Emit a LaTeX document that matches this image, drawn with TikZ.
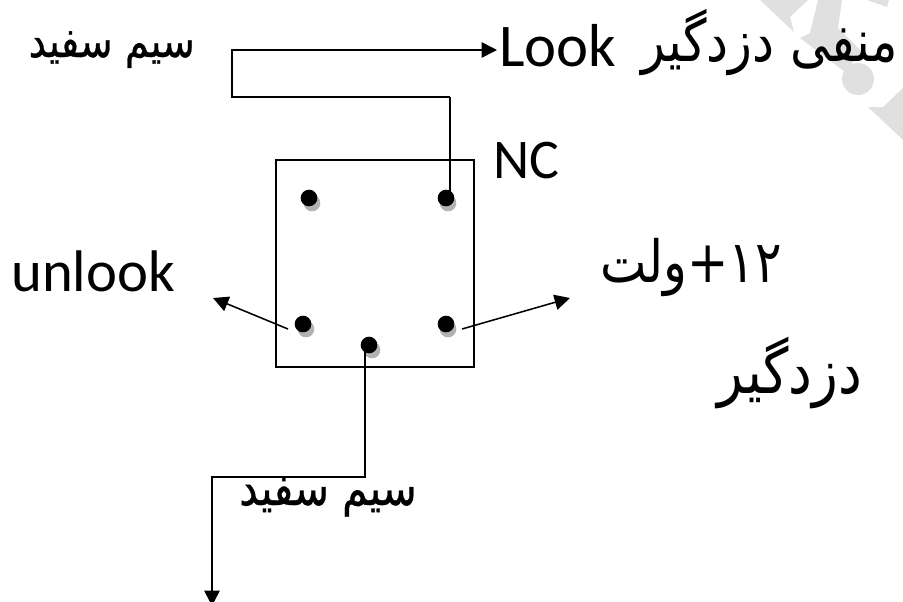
\documentclass[tikz,border=0pt]{standalone}
\usepackage{fontspec}
\setmainfont{Carlito}
\newfontfamily\arabicfont[Script=Arabic]{DejaVu Sans}
\newfontfamily\arabicheavy[Script=Arabic,FakeBold=0.7]{DejaVu Sans}
\TeXXeTstate=1
\usetikzlibrary{arrows.meta}
\definecolor{wmgray}{gray}{0.88}
\newcommand{\tallfa}[1]{\scalebox{1}[1.18]{\beginR #1\endR}}
\tikzset{
  wire/.style={draw=black,line width=1.15pt},
  arrowed/.style={-{Triangle[length=11.5pt,width=11.5pt]}},
  pin/.style={circle,fill=black,minimum size=12.5pt,inner sep=0pt},
  pinshadow/.style={circle,fill=black!30,minimum size=12.5pt,inner sep=0pt},
  latin/.style={font=\fontsize{45.5}{48}\selectfont,inner sep=0pt,anchor=base west},
  latinsmall/.style={font=\fontsize{42}{46}\selectfont,inner sep=0pt,anchor=base west},
  latinwide/.style={font=\fontsize{44}{46}\selectfont,inner sep=0pt,anchor=base west},
  farsi/.style={font=\arabicfont\fontsize{37}{42}\selectfont,inner sep=0pt,anchor=base east},
  farsiwide/.style={font=\arabicfont\fontsize{40}{44}\selectfont,inner sep=0pt,anchor=base east},
  farsismall/.style={font=\arabicheavy\fontsize{29}{34}\selectfont,inner sep=0pt,anchor=base east},
  farsimid/.style={font=\arabicheavy\fontsize{31}{36}\selectfont,inner sep=0pt,anchor=base east},
}
\begin{document}
\begin{tikzpicture}[x=0.75pt,y=-0.75pt]
\useasboundingbox (0,0) rectangle (903,601);
\fill[wmgray] (760,0) -- (794,32) -- (790,17) -- (808,0) -- cycle;
\fill[wmgray] (818,0) -- (842,0) -- (838,28) -- (862,52) -- (845,72) -- (800,38) -- (810,33) -- cycle;
\fill[wmgray] (867,0) -- (887,7) -- (889,0) -- cycle;
\fill[wmgray] (858,79) circle[radius=16];
\fill[wmgray] (868,107) -- (883,107) -- (903,88) -- (903,140) -- cycle;
\draw[wire,line width=1pt] (276,160) rectangle (474,367);
\node[pinshadow] (sa) at (312,203) {};
\node[pinshadow] (sb) at (448,203) {};
\node[pinshadow] (sc) at (306,329) {};
\node[pinshadow] (sd) at (448,329) {};
\node[pinshadow] (se) at (372,350) {};
\node[pin] (pa) at (309,198) {};
\node[pin] (pb) at (446,198) {};
\node[pin] (pc) at (303,324) {};
\node[pin] (pd) at (446,324) {};
\node[pin] (pe) at (369,345) {};
\coordinate (ta) at (232,50);
\coordinate (tb) at (232,97);
\coordinate (tc) at (450,97);
\coordinate (ah) at (497,50);
\coordinate (lc) at (288,329);
\coordinate (lt) at (213,298);
\coordinate (rc) at (462,329);
\coordinate (rt) at (570,298);
\coordinate (bc) at (365,477);
\coordinate (bd) at (212,477);
\coordinate (be) at (212,606);
\node[latin] (look) at (499,66) {Look};
\node[latinsmall] (nc) at (493,178) {NC};
\node[latinwide] (unl) at (11,291) {unlook};
\node[farsi] (neg) at (898,61) {\tallfa{منفی دزدگیر}};
\node[farsismall] (wa) at (195,57) {\tallfa{سیم سفید}};
\node[farsimid] (wb) at (417,505) {\tallfa{سیم سفید}};
\node[farsi] (volt) at (782,282) {\tallfa{۱۲+ولت}};
\node[farsiwide] (dz) at (862,393) {\tallfa{دزدگیر}};
\draw[wire,line width=0.9pt] (tc |- pb) -- (tc);
\draw[wire,arrowed] (tc) -- (tb) -- (ta) -- (ah);
\draw[wire,arrowed] (lc) -- (lt);
\draw[wire,arrowed] (rc) -- (rt);
\draw[wire,arrowed] (bc |- pe) -- (bc) -- (bd) -- (be);
\end{tikzpicture}
\end{document}
